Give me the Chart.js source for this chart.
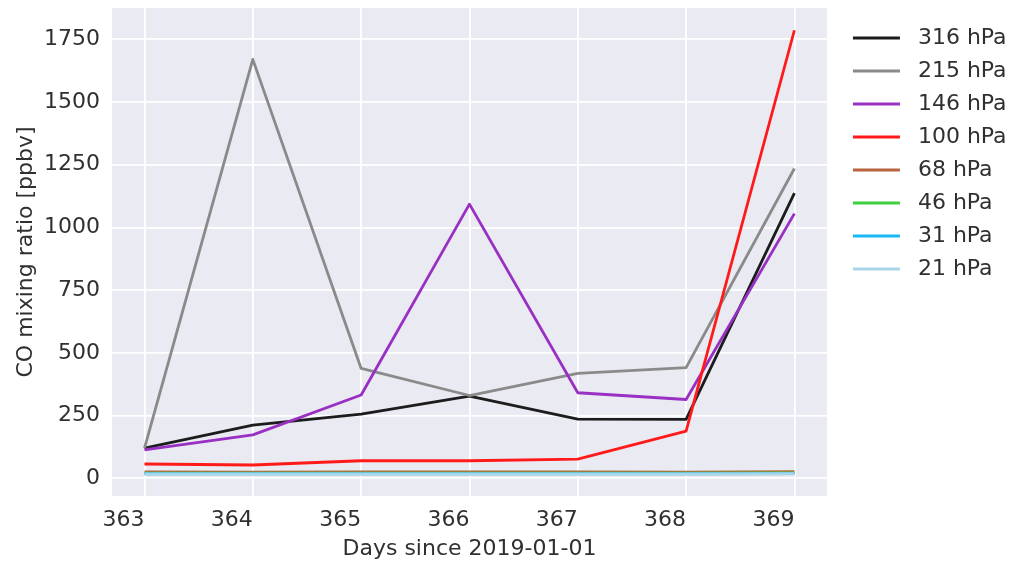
<!DOCTYPE html>
<html>
<head>
<meta charset="utf-8">
<script src="https://cdn.jsdelivr.net/npm/chart.js@4.4.1/dist/chart.umd.min.js"></script>
<style>
  html, body { margin: 0; padding: 0; background: #ffffff; }
  #wrap { width: 1011px; height: 562px; }
</style>
</head>
<body>
<div id="wrap"><canvas id="chart" width="1011" height="562"></canvas></div>
<script>
// Days since 2019-01-01
const days = [363, 364, 365, 366, 367, 368, 369];

// CO mixing ratio [ppbv] per pressure level
const co316 = [120, 212, 256, 328, 236, 235, 1137];
const co215 = [120, 1670, 438, 330, 418, 441, 1235];
const co146 = [113, 173, 332, 1093, 341, 314, 1055];
const co100 = [57, 53, 70, 70, 76, 188, 1786];
const co68  = [25, 24, 25, 25, 25, 24, 26];
const co46  = [20, 20, 20, 20, 20, 20, 21];
const co31  = [18, 18, 18, 18, 18, 18, 19];
const co21  = [17, 17, 17, 17, 17, 17, 18];

const levelLabels = ['316 hPa', '215 hPa', '146 hPa', '100 hPa', '68 hPa', '46 hPa', '31 hPa', '21 hPa'];
const levelSeries = [co316, co215, co146, co100, co68, co46, co31, co21];
const levelColors = ['#1c1c1c', '#8a8a8a', '#9a2fc4', '#ff1a1a', '#b8643f', '#3fcf3f', '#19b9f5', '#a9d5e8'];

const xTickValues = [363, 364, 365, 366, 367, 368, 369];
const yTickValues = [0, 250, 500, 750, 1000, 1250, 1500, 1750];

const textColor = '#303030';
const font22 = { family: "'DejaVu Sans', sans-serif", size: 22 };

// short line swatches for the legend
function makeSwatch(color) {
  const c = document.createElement('canvas');
  c.width = 69; c.height = 4;
  const g = c.getContext('2d');
  g.fillStyle = color;
  g.fillRect(15, 0.5, 47, 3);
  return c;
}
const swatches = levelColors.map(makeSwatch);

const datasets = levelSeries.map((vals, i) => ({
  label: levelLabels[i],
  data: vals.map((v, j) => ({ x: days[j], y: v })),
  borderColor: levelColors[i],
  backgroundColor: levelColors[i],
  borderWidth: 2.8,
  pointRadius: 0,
  pointHoverRadius: 0,
  tension: 0,
  fill: false,
  borderJoinStyle: 'round',
  order: -i
}));

// axes face colour
const plotBackground = {
  id: 'plotBackground',
  beforeDraw(chart) {
    const { ctx, chartArea: a } = chart;
    ctx.save();
    ctx.fillStyle = '#eaeaf2';
    ctx.fillRect(a.left, a.top, a.right - a.left, a.bottom - a.top);
    ctx.restore();
  }
};

new Chart(document.getElementById('chart'), {
  type: 'line',
  data: { datasets },
  plugins: [plotBackground],
  options: {
    responsive: false,
    animation: false,
    devicePixelRatio: 1,
    events: [],
    layout: { padding: { left: 0, top: 8, right: -5.6, bottom: 0 } },
    scales: {
      x: {
        type: 'linear',
        min: 362.7,
        max: 369.3,
        afterBuildTicks(s) { s.ticks = xTickValues.map(v => ({ value: v })); },
        afterFit(s) { s.height = 66; s.paddingLeft = 0; s.paddingRight = 0; },
        grid: { color: '#ffffff', lineWidth: 1.8, drawTicks: false },
        border: { display: false },
        ticks: {
          align: 'end', padding: 11, maxRotation: 0, minRotation: 0, autoSkip: false,
          color: textColor, font: font22,
          callback: v => String(v)
        },
        title: {
          display: true, text: 'Days since 2019-01-01',
          padding: { top: 0, bottom: 0 }, color: textColor, font: font22
        }
      },
      y: {
        type: 'linear',
        min: -70.6,
        max: 1874.7,
        afterBuildTicks(s) { s.ticks = yTickValues.map(v => ({ value: v })); },
        afterFit(s) { s.width = 112; s.paddingTop = 0; s.paddingBottom = 0; },
        grid: { color: '#ffffff', lineWidth: 1.8, drawTicks: false },
        border: { display: false },
        ticks: { padding: 12, color: textColor, font: font22, callback: v => String(v) },
        title: {
          display: true, text: 'CO mixing ratio [ppbv]',
          padding: { top: 13, bottom: 0 }, color: textColor, font: font22
        }
      }
    },
    plugins: {
      tooltip: { enabled: false },
      legend: {
        position: 'right',
        align: 'start',
        title: { display: true, text: '', padding: 0, font: { size: 8, lineHeight: 1 } },
        labels: {
          usePointStyle: true,
          pointStyleWidth: 69,
          padding: 11,
          color: textColor,
          font: font22,
          generateLabels(chart) {
            return chart.data.datasets.map((ds, i) => ({
              text: ds.label,
              pointStyle: swatches[i],
              fillStyle: ds.borderColor,
              strokeStyle: ds.borderColor,
              fontColor: textColor,
              lineWidth: 0,
              hidden: false,
              datasetIndex: i
            }));
          }
        }
      }
    }
  }
});
</script>
</body>
</html>
